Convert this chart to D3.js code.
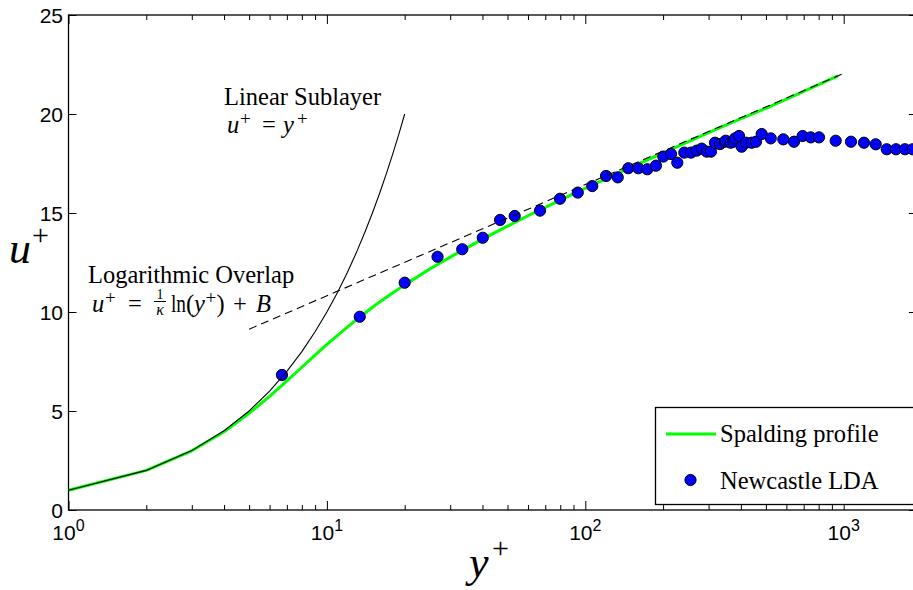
<!DOCTYPE html>
<html><head><meta charset="utf-8">
<script src="https://cdn.jsdelivr.net/npm/d3@7"></script>
<style>body{margin:0;background:#fff}svg{display:block}</style>
</head><body>
<svg id="chart" width="913" height="590"></svg>
<script>
// Linear sublayer, u+ = y+
const linearYp = [1,2,3,4,5,6,7,8,9,10,11,12,13,14,15,16,17,18,19,20];
const linearUp = [1,2,3,4,5,6,7,8,9,10,11,12,13,14,15,16,17,18,19,20];

// Logarithmic overlap (kappa = 0.41, B = 5.2), end points
const logYp = [5, 1000];
const logUp = [9.13, 22.05];

// Spalding composite profile
const spaldingYp = [1,2,3,4,5,6,7,8,9,10,12,14,16,18,20,25,30,40,50,60,80,100,150,200,300,400,500,700,950];
const spaldingUp = [1.00,2.00,2.99,3.95,4.88,5.74,6.52,7.21,7.82,8.36,9.24,9.94,10.51,10.97,11.37,12.17,12.77,13.68,14.34,14.86,15.65,16.25,17.30,18.04,19.06,19.77,20.29,21.14,21.92];

// Newcastle LDA measurements
const ldaYp = [6.7,13.4,20.0,26.8,33.4,40.1,46.8,53.3,66.8,79.8,93.5,106.4,120.3,133.5,146.7,160.4,173.8,187.7,200.4,214.6,227,241.6,256.6,269.8,282.2,295,306.5,317.7,332,347,349.4,365.3,374,379.5,393.4,402.9,418.8,440.6,457.7,481.5,521.9,583.8,642.1,693.5,745.3,802.6,931,1067,1198,1330,1467,1594,1726,1849];
const ldaUp = [6.82,9.76,11.48,12.79,13.17,13.75,14.65,14.85,15.12,15.72,16.03,16.36,16.87,16.80,17.26,17.26,17.21,17.39,17.85,17.98,17.54,18.05,18.05,18.15,18.25,18.10,18.10,18.55,18.48,18.60,18.65,18.55,18.60,18.77,18.89,18.35,18.55,18.55,18.60,18.99,18.77,18.72,18.60,18.89,18.82,18.82,18.65,18.60,18.55,18.47,18.22,18.22,18.22,18.22];

// Axis ticks
const yTicks = [0,5,10,15,20,25];
const xMajor = [1,10,100,1000];
const xExp = ["0","1","2","3"];
const xMax = 1920;

const svg = d3.select("#chart");
const L = 68.5, T = 15, B = 510;
const decade = 258.4;

const x = d3.scaleLog().domain([1, xMax]).range([L, L + decade * Math.log10(xMax)]);
const y = d3.scaleLinear().domain([0, 25]).range([B, T]);
const R = x.range()[1];

svg.append("defs").append("clipPath").attr("id","plot")
  .append("rect").attr("x", L).attr("y", T).attr("width", R - L).attr("height", B - T);

// minor log ticks 2..9 in each decade
const xMinor = [];
for (let e = 0; e < 4; e++) for (let m = 2; m <= 9; m++) { const v = m * Math.pow(10, e); if (v <= xMax) xMinor.push(v); }

const axisStyle = g => {
  g.select(".domain").remove();
  g.selectAll(".tick line").attr("stroke", "#000").attr("stroke-width", 1);
  g.selectAll(".tick text").remove();
};

svg.append("g").attr("transform", `translate(0,${B})`)
  .call(d3.axisBottom(x).tickValues(xMinor).tickSize(-5).tickFormat("")).call(axisStyle);
svg.append("g").attr("transform", `translate(0,${B})`)
  .call(d3.axisBottom(x).tickValues(xMajor).tickSize(-9).tickFormat("")).call(axisStyle);
svg.append("g").attr("transform", `translate(0,${T})`)
  .call(d3.axisTop(x).tickValues(xMinor).tickSize(-5).tickFormat("")).call(axisStyle);
svg.append("g").attr("transform", `translate(0,${T})`)
  .call(d3.axisTop(x).tickValues(xMajor).tickSize(-9).tickFormat("")).call(axisStyle);
svg.append("g").attr("transform", `translate(${L},0)`)
  .call(d3.axisLeft(y).tickValues(yTicks).tickSize(-8).tickFormat("")).call(axisStyle);
svg.append("g").attr("transform", `translate(${R},0)`)
  .call(d3.axisRight(y).tickValues(yTicks).tickSize(-8).tickFormat("")).call(axisStyle);

// frame
svg.append("rect").attr("x", L).attr("y", T).attr("width", R - L).attr("height", B - T)
  .attr("fill", "none").attr("stroke", "#000").attr("stroke-width", 1.3);

// tick labels
const sans = "Liberation Sans, Arial, sans-serif";
svg.append("g").selectAll("text").data(yTicks).join("text")
  .attr("x", 63).attr("y", d => y(d)).attr("dy", "0.36em")
  .attr("text-anchor", "end").attr("font-family", sans)
  .attr("font-size", 21).text(d => d);

const xl = svg.append("g").selectAll("text").data(xMajor).join("text")
  .attr("x", d => x(d)).attr("y", 540)
  .attr("text-anchor", "middle").attr("font-family", sans)
  .attr("font-size", 21);
xl.append("tspan").text("10");
xl.append("tspan").attr("dy", -9).attr("font-size", 16).text((d, i) => xExp[i]);

// text helper: one glyph run at a fixed spot
const serif = "Liberation Serif, Times New Roman, serif";
function put(txt, px, py, size, italic, anchor) {
  return svg.append("text").attr("x", px).attr("y", py)
    .attr("font-family", serif).attr("font-size", size)
    .attr("font-style", italic ? "italic" : "normal")
    .attr("text-anchor", anchor || "start").text(txt);
}

// axis titles
put("u", 9, 263, 44, true);
put("+", 32, 245, 30, false);
put("y", 469, 577, 44, true);
put("+", 492, 558, 30, false);

// data layers
const plot = svg.append("g").attr("clip-path", "url(#plot)");
const line = d3.line().x(d => x(d[0])).y(d => y(d[1]));

plot.append("path").datum(d3.zip(spaldingYp, spaldingUp)).attr("d", line)
  .attr("fill", "none").attr("stroke", "#00ff00").attr("stroke-width", 3).attr("stroke-linejoin", "round");

plot.append("g").selectAll("circle").data(d3.zip(ldaYp, ldaUp)).join("circle")
  .attr("cx", d => x(d[0])).attr("cy", d => y(d[1])).attr("r", 5.6)
  .attr("fill", "#0000ff").attr("stroke", "#000").attr("stroke-width", 1);

plot.append("path").datum(d3.zip(linearYp, linearUp)).attr("d", line)
  .attr("fill", "none").attr("stroke", "#000").attr("stroke-width", 1.1);

plot.append("path").datum(d3.zip(logYp, logUp)).attr("d", line)
  .attr("fill", "none").attr("stroke", "#000").attr("stroke-width", 1.1).attr("stroke-dasharray", "8,5");

// annotations
const fs = 24.5, sup = 19;
put("Linear Sublayer", 224, 105, fs, false);
put("u", 227, 133, fs, true);
put("+", 240, 125, sup, false);
put("=", 262, 133, fs, false);
put("y", 283, 133, fs, true);
put("+", 297, 125, sup, false);

put("Logarithmic Overlap", 88, 283, fs, false);
put("u", 92, 312, fs, true);
put("+", 105, 304, sup, false);
put("=", 128, 312, fs, false);
put("1", 160, 298.5, 14, false, "middle");
svg.append("line").attr("x1", 154).attr("x2", 166).attr("y1", 301.5).attr("y2", 301.5)
  .attr("stroke", "#000").attr("stroke-width", 1);
put("κ", 160, 315, 16, true, "middle");
put("ln", 171, 312, fs, false).attr("textLength", 15).attr("lengthAdjust", "spacingAndGlyphs");
put("(", 186, 312, fs, false);
put("y", 194, 312, fs, true);
put("+", 205.5, 304, sup, false);
put(")", 216.5, 312, fs, false);
put("+", 233, 312, fs, false);
put("B", 256, 312, fs, true);

// legend
const lg = svg.append("g");
lg.append("rect").attr("x", 655.5).attr("y", 407.5).attr("width", 300).attr("height", 97)
  .attr("fill", "#fff").attr("stroke", "#000").attr("stroke-width", 1.3);
lg.append("line").attr("x1", 666).attr("x2", 716).attr("y1", 434).attr("y2", 434)
  .attr("stroke", "#00ff00").attr("stroke-width", 3);
lg.append("text").attr("x", 720).attr("y", 442).attr("font-family", serif).attr("font-size", fs).text("Spalding profile");
lg.append("circle").attr("cx", 690.5).attr("cy", 480).attr("r", 5.6).attr("fill", "#0000ff").attr("stroke", "#000");
lg.append("text").attr("x", 720).attr("y", 489).attr("font-family", serif).attr("font-size", fs).text("Newcastle LDA");
</script>
</body></html>
